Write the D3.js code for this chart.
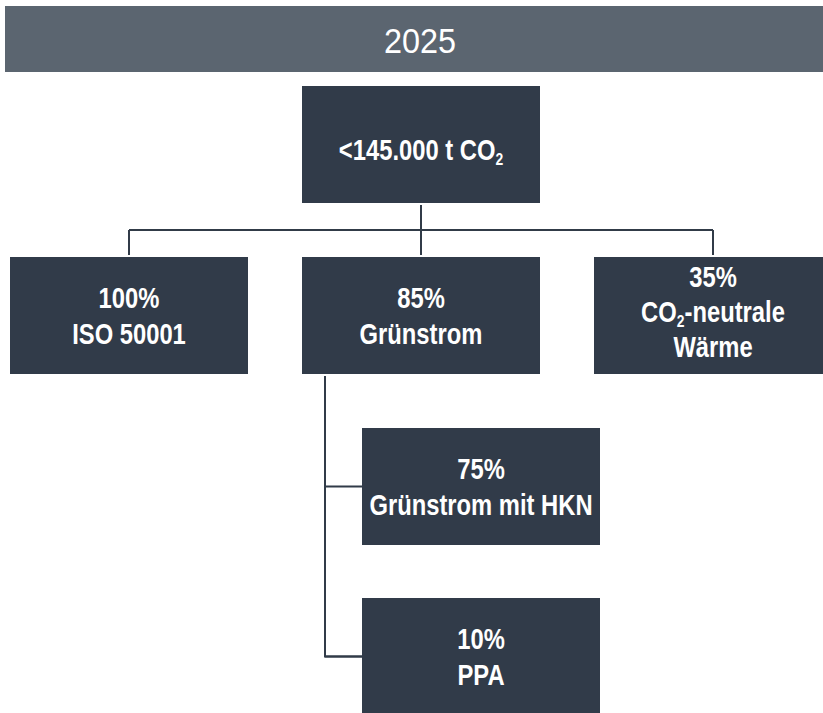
<!DOCTYPE html>
<html>
<head>
<meta charset="utf-8">
<script src="https://cdn.jsdelivr.net/npm/d3@7"></script>
<style>
  html, body { margin: 0; padding: 0; background: #ffffff; overflow: hidden; }
  svg { display: block; }
</style>
</head>
<body>
<svg id="chart" width="823" height="713"></svg>
<script>
// ---- data ----
const headerLabel = "2025";
const rootLabel = [["<145.000 t CO", "2", ""]];
const level2Labels = [
  [["100%"], ["ISO 50001"]],
  [["85%"], ["Grünstrom"]],
  [["35%"], ["CO", "2", "-neutrale"], ["Wärme"]]
];
const level3Labels = [
  [["75%"], ["Grünstrom mit HKN"]],
  [["10%"], ["PPA"]]
];

// ---- style / layout ----
const boxColor = "#313b49";
const headerColor = "#5b6570";
const lineColor = "#313b48";
const boxW = 238, boxH = 117;
const fontSize = 29, capH = 21;

const svg = d3.select("#chart");

// header
svg.append("rect").attr("x", 5).attr("y", 6).attr("width", 830).attr("height", 66).attr("fill", headerColor);
svg.append("g").attr("transform", "translate(420,53) scale(0.9,1)")
  .append("text").attr("text-anchor", "middle")
  .attr("font-family", "'Liberation Sans', Arial, sans-serif")
  .attr("font-size", 36).attr("fill", "#ffffff").text(headerLabel);

// scales
const x2 = d3.scalePoint().domain(d3.range(level2Labels.length)).range([129, 713]);
const y3 = d3.scalePoint().domain(d3.range(level3Labels.length)).range([486.5, 656.5]);
const rootCx = x2(1), rootCy = 144.5;
const l2Cy = 315.5;
const l3Cx = 481;

// connectors
const lines = svg.append("g").attr("stroke", lineColor).attr("stroke-width", 2).attr("fill", "none");
const busY = 230;
lines.append("line").attr("x1", rootCx).attr("x2", rootCx).attr("y1", rootCy + boxH/2 + 2).attr("y2", l2Cy - boxH/2 - 2);
lines.append("line").attr("x1", x2(0)).attr("x2", x2(level2Labels.length - 1)).attr("y1", busY).attr("y2", busY);
level2Labels.forEach((d, i) => {
  lines.append("line").attr("x1", x2(i)).attr("x2", x2(i)).attr("y1", busY).attr("y2", l2Cy - boxH/2 - 2);
});
const stemX = 325;
lines.append("path").attr("d",
  `M${stemX},${l2Cy + boxH/2 + 2} V${y3(level3Labels.length - 1)} H${l3Cx - boxW/2}`);
level3Labels.forEach((d, i) => {
  lines.append("line").attr("x1", stemX).attr("x2", l3Cx - boxW/2).attr("y1", y3(i)).attr("y2", y3(i));
});

// box drawing
function drawBox(cx, cy, linesArr) {
  svg.append("rect").attr("x", cx - boxW/2).attr("y", cy - boxH/2)
    .attr("width", boxW).attr("height", boxH).attr("fill", boxColor);
  const n = linesArr.length;
  const s = n === 3 ? 35 : 36.5;
  const shift = n === 1 ? 5 : (n === 3 ? -4.5 : 0);
  linesArr.forEach((parts, i) => {
    const base = cy + capH/2 + (i - (n - 1)/2) * s + shift;
    const t = svg.append("g").attr("transform", `translate(${cx},${base}) scale(0.82,1)`)
      .append("text").attr("text-anchor", "middle")
      .attr("font-family", "'Liberation Sans', Arial, sans-serif")
      .attr("font-weight", "bold").attr("font-size", fontSize).attr("fill", "#ffffff");
    parts.forEach((p, j) => {
      if (j === 1) {
        t.append("tspan").attr("font-size", 17).attr("dy", 5).text(p);
      } else if (j === 2) {
        t.append("tspan").attr("dy", -5).text(p);
      } else {
        t.append("tspan").text(p);
      }
    });
  });
}

drawBox(rootCx, rootCy, rootLabel);
level2Labels.forEach((d, i) => drawBox(x2(i), l2Cy, d));
level3Labels.forEach((d, i) => drawBox(l3Cx, y3(i), d));
</script>
</body>
</html>
